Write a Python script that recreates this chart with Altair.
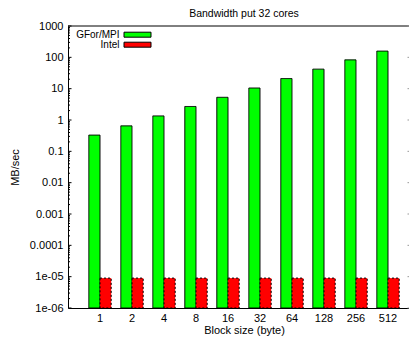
import altair as alt
import pandas as pd

# ---- data ----
block_sizes = ["1", "2", "4", "8", "16", "32", "64", "128", "256", "512"]
series_names = ["GFor/MPI", "Intel"]
gfor_mpi = [0.33, 0.65, 1.35, 2.7, 5.3, 10.5, 21, 42, 83, 158]
intel = [9e-6, 9e-6, 9e-6, 9e-6, 9e-6, 9e-6, 9e-6, 9e-6, 9e-6, 9e-6]
y_major_ticks = [1e-6, 1e-5, 1e-4, 1e-3, 1e-2, 1e-1, 1, 10, 100, 1000]
y_tick_labels = ["1e-06", "1e-05", "0.0001", "0.001", "0.01", "0.1", "1", "10", "100", "1000"]
y_minor_ticks = [m * d for d in y_major_ticks[:-1] for m in range(2, 10)]
y_base = 1e-6
colors = ["#00ff00", "#ff0000"]

FONT = "Liberation Sans"
W, H = 341, 282      # plot area (right edge runs to the window edge, as in the reference)
XR = 352             # full x range of the band scale (reference plot is wider than the window)

rows = []
for s, vals in zip(series_names, [gfor_mpi, intel]):
    for b, v in zip(block_sizes, vals):
        rows.append({"size": b, "series": s, "value": v, "base": y_base})
df = pd.DataFrame(rows)
df_major = pd.DataFrame({"value": y_major_ticks})
df_minor = pd.DataFrame({"value": y_minor_ticks})
df_leg = pd.DataFrame({"series": series_names})
df_frame = pd.DataFrame({"edge": ["top"]})

yscale = alt.Scale(type="log", domain=[y_major_ticks[0], y_major_ticks[-1]])
color_scale = alt.Scale(domain=series_names, range=colors)
dash_scale = alt.Scale(domain=series_names, range=[[1, 0], [2, 2]])

label_arr = "[" + ",".join("'" + l + "'" for l in y_tick_labels) + "]"
label_expr = f"{label_arr}[round(log(datum.value)/LN10) + 6]"

bars = alt.Chart(df).mark_bar(stroke="black", strokeWidth=1).encode(
    x=alt.X("size:N", sort=block_sizes,
            scale=alt.Scale(range=[0, XR], paddingInner=0.3, paddingOuter=0.65),
            axis=alt.Axis(title="Block size (byte)", labelAngle=0, ticks=False, domain=True,
                          domainColor="black", domainWidth=1,
                          labelPadding=4, titlePadding=1, titleX=XR / 2)),
    xOffset=alt.XOffset("series:N", sort=series_names, scale=alt.Scale(paddingInner=0, paddingOuter=0)),
    y=alt.Y("value:Q", scale=yscale,
            axis=alt.Axis(title="MB/sec", values=y_major_ticks, labelExpr=label_expr,
                          ticks=False, domain=True, domainColor="black", domainWidth=1,
                          grid=False, labelPadding=5, titlePadding=9)),
    y2="base:Q",
    color=alt.Color("series:N", scale=color_scale, legend=None),
    strokeDash=alt.StrokeDash("series:N", scale=dash_scale, legend=None),
)

top_border = alt.Chart(df_frame).mark_rule(color="black", strokeWidth=1).encode(
    x=alt.value(0), x2=alt.value(W), y=alt.value(0))
major_left = alt.Chart(df_major).mark_rule(color="black", strokeWidth=1).encode(
    x=alt.value(0), x2=alt.value(3.5), y=alt.Y("value:Q", scale=yscale))
minor_left = alt.Chart(df_minor).mark_rule(color="black", strokeWidth=1).encode(
    x=alt.value(0), x2=alt.value(2), y=alt.Y("value:Q", scale=yscale))
major_right = alt.Chart(df_major).mark_rule(color="#999999", strokeWidth=1).encode(
    x=alt.value(W - 1.5), x2=alt.value(W), y=alt.Y("value:Q", scale=yscale))

legend_layers = []
for i, s in enumerate(series_names):
    d = df_leg[df_leg["series"] == s]
    yc = 8.5 + 10 * i
    legend_layers.append(
        alt.Chart(d).mark_text(align="right", baseline="middle", fontSize=10, font=FONT, color="black").encode(
            x=alt.value(51.5), y=alt.value(yc), text="series:N"))
    legend_layers.append(
        alt.Chart(d).mark_rect(stroke="black", strokeWidth=1).encode(
            x=alt.value(56), x2=alt.value(83), y=alt.value(yc - 2.3), y2=alt.value(yc + 2.7),
            color=alt.Color("series:N", scale=color_scale, legend=None),
            strokeDash=alt.StrokeDash("series:N", scale=dash_scale, legend=None)))

chart = alt.layer(bars, top_border, minor_left, major_left, major_right, *legend_layers).properties(
    width=W, height=H,
    title=alt.TitleParams("Bandwidth put 32 cores", fontSize=10.5, font=FONT, fontWeight="normal",
                          color="black", offset=1, dx=(XR - W) / 2),
    autosize=alt.AutoSizeParams(type="none"),
    padding={"left": 60, "top": 18, "right": 0, "bottom": 28},
    background="white",
).configure_view(stroke=None).configure_axis(
    labelFont=FONT, titleFont=FONT, labelFontSize=11, titleFontSize=11,
    labelColor="black", titleColor="black", titleFontWeight="normal",
)

chart.save("out.html", embed_options={"renderer": "svg", "actions": False})
